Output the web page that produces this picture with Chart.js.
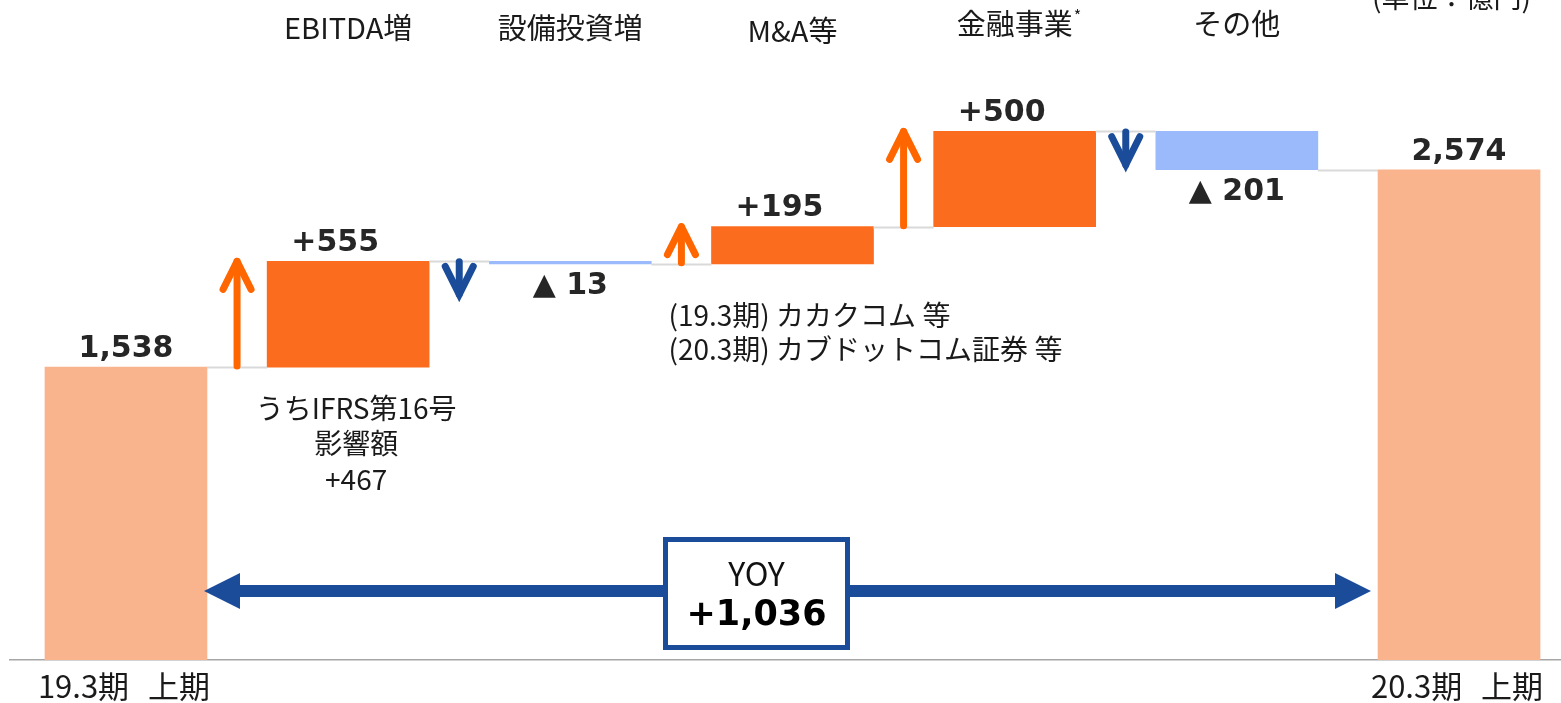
<!DOCTYPE html>
<html><head><meta charset="utf-8">
<script src="https://cdn.jsdelivr.net/npm/chart.js@4"></script>
<style>html,body{margin:0;padding:0;background:#fff}#wrap{width:1561px;height:703px;position:relative}</style>
</head><body><div id="wrap"><canvas id="c"></canvas></div>
<script>
// ---- data ----
const categories = ['19.3期 上期', 'EBITDA増', '設備投資増', 'M&A等', '金融事業', 'その他', '20.3期 上期'];
const startTotal = 1538;
const deltas = [555, -13, 195, 500, -201];
const endTotal = 2574;
const yoyValue = 1036;
const unitLabel = '(単位：億円)';
const ifrsNote = ['うちIFRS第16号', '影響額', '+467'];
const maNote = ['(19.3期) カカクコム 等', '(20.3期) カブドットコム証券 等'];

// ---- derived ----
const ranges = [[0, startTotal]];
let run = startTotal;
deltas.forEach(d => { ranges.push([run, run + d]); run += d; });
ranges.push([0, endTotal]);
const values = [startTotal, ...deltas, endTotal];
const isTotal = i => i === 0 || i === values.length - 1;

const C_TOTAL = '#F9B48E', C_UP = '#FC6C1E', C_DOWN = '#9ABAFC';
const C_ARROW_UP = '#FF6600', C_ARROW_DOWN = '#1A4C9A';
const fontJP = '"Noto Sans CJK JP", "Noto Sans", sans-serif';
const fontNum = '"DejaVu Sans", Verdana, sans-serif';
const topLabelY = [28, 28, 31, 24, 24];

function fmtLabel(v, total) {
  if (total) return v.toLocaleString('en-US');
  return v >= 0 ? '+' + v : '▲ ' + Math.abs(v);
}

function arrow(ctx, x, yTail, yTip, color, join) {
  const dir = yTail > yTip ? 1 : -1;
  ctx.save();
  ctx.strokeStyle = color; ctx.lineWidth = 7; ctx.lineCap = 'round'; ctx.lineJoin = join;
  ctx.beginPath(); ctx.moveTo(x, yTail); ctx.lineTo(x, yTip); ctx.stroke();
  ctx.beginPath();
  ctx.moveTo(x - 14, yTip + dir * 28); ctx.lineTo(x, yTip); ctx.lineTo(x + 14, yTip + dir * 28);
  ctx.stroke();
  ctx.restore();
}

const overlay = {
  id: 'overlay',
  afterDatasetsDraw(chart) {
    const ctx = chart.ctx, xs = chart.scales.x, ys = chart.scales.y;
    const bars = chart.getDatasetMeta(0).data;
    ctx.save();
    // connectors
    ctx.strokeStyle = '#D9D9D9'; ctx.lineWidth = 2;
    for (let i = 0; i < bars.length - 1; i++) {
      const y = Math.round(ys.getPixelForValue(ranges[i][1])) + 0.5;
      ctx.beginPath();
      ctx.moveTo(bars[i].x + bars[i].width / 2, y);
      ctx.lineTo(bars[i + 1].x - bars[i + 1].width / 2, y);
      ctx.stroke();
    }
    // delta arrows
    deltas.forEach((d, k) => {
      const i = k + 1;
      const x = xs.getPixelForValue(i - 0.5);
      const y0 = ys.getPixelForValue(ranges[i][0]);
      const y1 = ys.getPixelForValue(ranges[i][1]);
      if (d > 0) arrow(ctx, x, y0 - 1, y1, C_ARROW_UP, 'round');
      else {
        const top = y0 - 3;
        const len = Math.max(44, y1 - y0 + 6);
        arrow(ctx, x, top + 3.5, top + len - 8, C_ARROW_DOWN, 'miter');
      }
    });
    // value labels
    ctx.fillStyle = '#262626';
    ctx.font = 'bold 30px ' + fontNum;
    ctx.textAlign = 'center'; ctx.textBaseline = 'middle';
    values.forEach((v, i) => {
      const b = bars[i];
      const yA = ys.getPixelForValue(ranges[i][0]), yB = ys.getPixelForValue(ranges[i][1]);
      const top = Math.min(yA, yB), bot = Math.max(yA, yB);
      const tot = isTotal(i);
      if (v >= 0) ctx.fillText(fmtLabel(v, tot), b.x + (tot ? 0 : -13), top - 18);
      else ctx.fillText(fmtLabel(v, tot), b.x, bot + 22);
    });
    // category labels
    ctx.fillStyle = '#1a1a1a';
    ctx.font = '29px ' + fontJP;
    for (let i = 1; i < categories.length - 1; i++) {
      const x = xs.getPixelForValue(i);
      const y = topLabelY[i - 1];
      ctx.textAlign = 'center';
      ctx.fillText(categories[i], x, y);
      if (categories[i] === '金融事業') {
        const w = ctx.measureText(categories[i]).width;
        ctx.save(); ctx.font = '16px ' + fontJP; ctx.textAlign = 'left';
        ctx.fillText('*', x + w / 2 + 1, y - 8); ctx.restore();
      }
    }
    ctx.save();
    ctx.font = '31px ' + fontJP;
    ctx.wordSpacing = '12px';
    ctx.textAlign = 'center';
    [0, categories.length - 1].forEach(i => {
      ctx.fillText(categories[i], xs.getPixelForValue(i) - 2, chart.chartArea.bottom + 26);
    });
    ctx.restore();
    ctx.font = '28px ' + fontJP;
    // unit label (clipped at top)
    ctx.textAlign = 'right';
    ctx.fillText(unitLabel, 1531, -3);
    // IFRS note
    ctx.textAlign = 'center';
    const nx = xs.getPixelForValue(1) + 8, ny = ys.getPixelForValue(startTotal);
    ifrsNote.forEach((t, j) => ctx.fillText(t, nx, ny + 41 + j * 35.5));
    // M&A note
    ctx.textAlign = 'left';
    const mx = xs.getPixelForValue(3) - 124, my = ys.getPixelForValue(ranges[3][0]);
    maNote.forEach((t, j) => ctx.fillText(t, mx, my + 52 + j * 34));
    // YOY double arrow
    const xL = bars[0].x + bars[0].width / 2 - 3;
    const xR = bars[bars.length - 1].x - bars[bars.length - 1].width / 2 - 7;
    const ay = chart.chartArea.bottom - 69;
    ctx.fillStyle = '#1A4C9A';
    ctx.fillRect(xL + 34, ay - 6, xR - xL - 68, 12);
    ctx.beginPath(); ctx.moveTo(xL, ay); ctx.lineTo(xL + 36, ay - 18); ctx.lineTo(xL + 36, ay + 18); ctx.closePath(); ctx.fill();
    ctx.beginPath(); ctx.moveTo(xR, ay); ctx.lineTo(xR - 36, ay - 18); ctx.lineTo(xR - 36, ay + 18); ctx.closePath(); ctx.fill();
    // YOY box
    const bx = 663, by = 537, bw = 187, bh = 113;
    ctx.fillStyle = '#fff'; ctx.fillRect(bx, by, bw, bh);
    ctx.strokeStyle = '#1A4C9A'; ctx.lineWidth = 5;
    ctx.strokeRect(bx + 2.5, by + 2.5, bw - 5, bh - 5);
    ctx.textAlign = 'center';
    ctx.fillStyle = '#111';
    ctx.font = '32px ' + fontJP;
    ctx.fillText('YOY', bx + bw / 2, 574);
    ctx.font = 'bold 35px ' + fontNum;
    ctx.fillStyle = '#000';
    ctx.fillText('+' + yoyValue.toLocaleString('en-US'), bx + bw / 2, 616);
    ctx.restore();
  }
};

new Chart(document.getElementById('c'), {
  type: 'bar',
  data: {
    datasets: [{
      data: ranges.map((r, i) => ({ x: i, y: r })),
      backgroundColor: values.map((v, i) => isTotal(i) ? C_TOTAL : (v >= 0 ? C_UP : C_DOWN)),
      barThickness: 162,
      borderWidth: 0
    }]
  },
  options: {
    responsive: true,
    maintainAspectRatio: false,
    animation: false,
    layout: { padding: { left: 10, right: 0, top: 0, bottom: 43 } },
    plugins: { legend: { display: false }, tooltip: { enabled: false } },
    scales: {
      x: {
        type: 'linear', min: -0.522, max: 6.459, offset: false,
        grid: { display: false, drawTicks: false, offset: false },
        ticks: { display: false },
        border: { display: true, color: '#A6A6A6', width: 1.5 }
      },
      y: { display: false, min: 0, max: 3465 }
    }
  },
  plugins: [overlay]
});
</script>
</body></html>
